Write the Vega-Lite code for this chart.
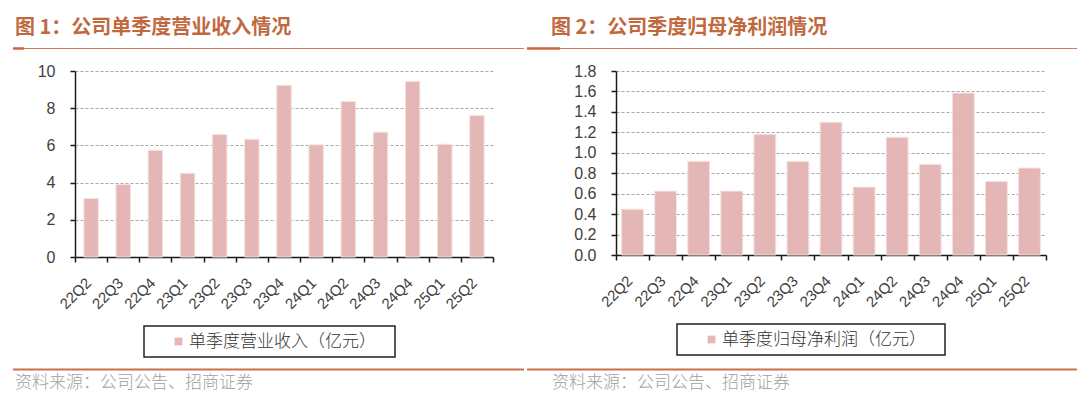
{
  "$schema": "https://vega.github.io/schema/vega-lite/v6.json",
  "padding": {"left": 11, "top": 18, "right": 0, "bottom": 6},
  "background": "white",
  "spacing": 0,
  "datasets": {
    "rev": [
      {"q": "22Q2", "v": 3.15, "s": "单季度营业收入（亿元）"},
      {"q": "22Q3", "v": 3.9, "s": "单季度营业收入（亿元）"},
      {"q": "22Q4", "v": 5.74, "s": "单季度营业收入（亿元）"},
      {"q": "23Q1", "v": 4.5, "s": "单季度营业收入（亿元）"},
      {"q": "23Q2", "v": 6.58, "s": "单季度营业收入（亿元）"},
      {"q": "23Q3", "v": 6.33, "s": "单季度营业收入（亿元）"},
      {"q": "23Q4", "v": 9.23, "s": "单季度营业收入（亿元）"},
      {"q": "24Q1", "v": 6.03, "s": "单季度营业收入（亿元）"},
      {"q": "24Q2", "v": 8.36, "s": "单季度营业收入（亿元）"},
      {"q": "24Q3", "v": 6.71, "s": "单季度营业收入（亿元）"},
      {"q": "24Q4", "v": 9.44, "s": "单季度营业收入（亿元）"},
      {"q": "25Q1", "v": 6.06, "s": "单季度营业收入（亿元）"},
      {"q": "25Q2", "v": 7.61, "s": "单季度营业收入（亿元）"}
    ],
    "np": [
      {"q": "22Q2", "v": 0.448, "s": "单季度归母净利润（亿元）"},
      {"q": "22Q3", "v": 0.625, "s": "单季度归母净利润（亿元）"},
      {"q": "22Q4", "v": 0.916, "s": "单季度归母净利润（亿元）"},
      {"q": "23Q1", "v": 0.625, "s": "单季度归母净利润（亿元）"},
      {"q": "23Q2", "v": 1.181, "s": "单季度归母净利润（亿元）"},
      {"q": "23Q3", "v": 0.916, "s": "单季度归母净利润（亿元）"},
      {"q": "23Q4", "v": 1.299, "s": "单季度归母净利润（亿元）"},
      {"q": "24Q1", "v": 0.664, "s": "单季度归母净利润（亿元）"},
      {"q": "24Q2", "v": 1.152, "s": "单季度归母净利润（亿元）"},
      {"q": "24Q3", "v": 0.887, "s": "单季度归母净利润（亿元）"},
      {"q": "24Q4", "v": 1.584, "s": "单季度归母净利润（亿元）"},
      {"q": "25Q1", "v": 0.72, "s": "单季度归母净利润（亿元）"},
      {"q": "25Q2", "v": 0.851, "s": "单季度归母净利润（亿元）"}
    ],
    "one": [{"k": 1}]
  },
  "resolve": {"scale": {"color": "independent"}, "legend": {"color": "independent"}},
  "hconcat": [
    {
      "width": 418,
      "height": 186,
      "title": {"text": "图 1：公司单季度营业收入情况", "anchor": "start", "frame": "group", "dx": -60, "offset": 9},
      "layer": [
        {
          "data": {"name": "rev"},
          "mark": {"type": "bar", "width": {"band": 0.45}, "stroke": "#f3e2e2", "strokeWidth": 1},
          "encoding": {
            "x": {"field": "q", "type": "nominal", "sort": null, "scale": {"paddingInner": 0, "paddingOuter": 0},
                  "axis": {"title": null, "labelAngle": -45, "tickBand": "extent", "grid": false}},
            "y": {"field": "v", "type": "quantitative", "scale": {"domain": [0, 10], "nice": false},
                  "axis": {"title": null, "values": [0, 2, 4, 6, 8, 10], "grid": true}},
            "color": {"field": "s", "type": "nominal", "scale": {"range": ["#e4b6b6"]},
                      "legend": {"title": " ", "orient": "none", "legendX": 69, "legendY": 255}}
          }
        },
        {
          "data": {"name": "one"},
          "mark": {"type": "rule", "color": "#cd7a58", "strokeWidth": 1},
          "encoding": {"x": {"value": -62}, "x2": {"value": 449}, "y": {"value": -22.5}}
        },
        {
          "data": {"name": "one"},
          "mark": {"type": "rule", "color": "#c8693f", "strokeWidth": 2.5},
          "encoding": {"x": {"value": -62}, "x2": {"value": -51}, "y": {"value": -22.5}}
        },
        {
          "data": {"name": "one"},
          "mark": {"type": "rule", "color": "#c8714f", "strokeWidth": 2},
          "encoding": {"x": {"value": -62}, "x2": {"value": 449}, "y": {"value": 298.5}}
        },
        {
          "data": {"name": "one"},
          "mark": {"type": "text", "align": "left", "baseline": "middle", "font": "Noto Sans CJK SC", "fontWeight": 300, "fontSize": 17, "color": "#a0a0a0"},
          "encoding": {"x": {"value": -60}, "y": {"value": 312}, "text": {"value": "资料来源：公司公告、招商证券"}}
        }
      ]
    },
    {
      "width": 430,
      "height": 184,
      "title": {"text": "图 2：公司季度归母净利润情况", "anchor": "start", "frame": "group", "dx": -65, "offset": 9},
      "layer": [
        {
          "data": {"name": "np"},
          "mark": {"type": "bar", "width": {"band": 0.66}, "stroke": "#f3e2e2", "strokeWidth": 1},
          "encoding": {
            "x": {"field": "q", "type": "nominal", "sort": null, "scale": {"paddingInner": 0, "paddingOuter": 0},
                  "axis": {"title": null, "labelAngle": -45, "tickBand": "extent", "grid": false}},
            "y": {"field": "v", "type": "quantitative", "scale": {"domain": [0, 1.8], "nice": false},
                  "axis": {"title": null, "values": [0, 0.2, 0.4, 0.6, 0.8, 1.0, 1.2, 1.4, 1.6, 1.8], "format": ".1f", "grid": true}},
            "color": {"field": "s", "type": "nominal", "scale": {"range": ["#e4b6b6"]},
                      "legend": {"title": " ", "orient": "none", "legendX": 61, "legendY": 253}}
          }
        },
        {
          "data": {"name": "one"},
          "mark": {"type": "rule", "color": "#cd7a58", "strokeWidth": 1},
          "encoding": {"x": {"value": -89}, "x2": {"value": 461}, "y": {"value": -22.5}}
        },
        {
          "data": {"name": "one"},
          "mark": {"type": "rule", "color": "#c8693f", "strokeWidth": 2.5},
          "encoding": {"x": {"value": -89}, "x2": {"value": -56}, "y": {"value": -22.5}}
        },
        {
          "data": {"name": "one"},
          "mark": {"type": "rule", "color": "#c8714f", "strokeWidth": 2},
          "encoding": {"x": {"value": -89}, "x2": {"value": 461}, "y": {"value": 298.5}}
        },
        {
          "data": {"name": "one"},
          "mark": {"type": "text", "align": "left", "baseline": "middle", "font": "Noto Sans CJK SC", "fontWeight": 300, "fontSize": 17, "color": "#a0a0a0"},
          "encoding": {"x": {"value": -64}, "y": {"value": 312}, "text": {"value": "资料来源：公司公告、招商证券"}}
        }
      ]
    }
  ],
  "config": {
    "view": {"stroke": null},
    "title": {"font": "Noto Sans CJK SC", "fontSize": 20, "fontWeight": "bold", "color": "#c0693f"},
    "axis": {
      "labelFont": "Liberation Sans", "labelFontSize": 16, "labelColor": "#404040",
      "domainColor": "#1a1a1a", "domainWidth": 1.5, "tickColor": "#1a1a1a", "tickWidth": 1.5, "tickSize": 5,
      "gridColor": "#a8a8a8", "gridDash": [3, 2], "gridWidth": 1, "labelPadding": 15
    },
    "axisX": {"labelPadding": 13, "labelOffset": -8, "labelFontSize": 15},
    "legend": {
      "labelFont": "Noto Sans CJK SC", "labelFontWeight": 300, "labelFontSize": 17, "labelColor": "#333333", "labelLimit": 500,
      "symbolType": "square", "symbolSize": 60, "symbolStrokeWidth": 0,
      "strokeColor": "#222222", "strokeWidth": 1.5, "padding": 7, "symbolOffset": 19, "labelOffset": 2,
      "titleOrient": "right", "titlePadding": 12, "titleFontSize": 10
    }
  }
}
